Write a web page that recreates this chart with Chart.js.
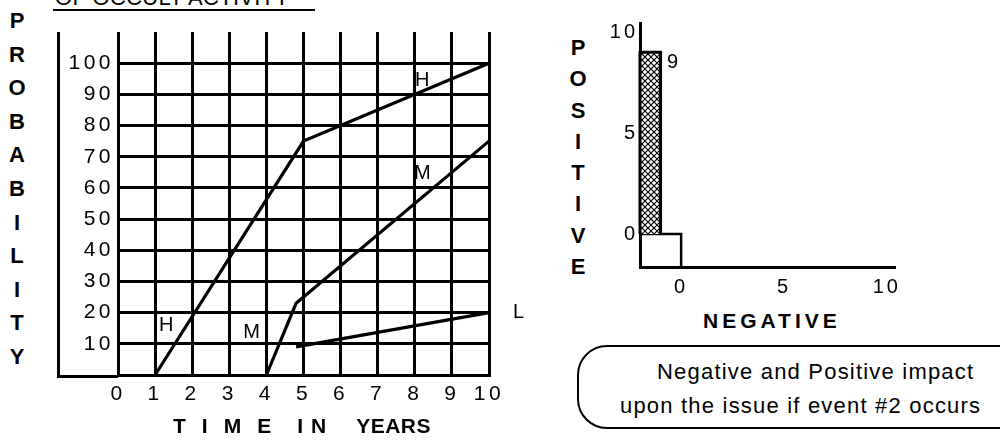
<!DOCTYPE html>
<html>
<head>
<meta charset="utf-8">
<script src="https://cdn.jsdelivr.net/npm/chart.js@4.4.0/dist/chart.umd.min.js"></script>
<style>
  html, body { margin: 0; padding: 0; background: #fff; }
  body { width: 1000px; height: 447px; position: relative; overflow: hidden;
         font-family: 'Liberation Sans', Arial, sans-serif; color: #000; }
  .abs { position: absolute; }
  .stack { text-align: center; font-weight: bold; font-size: 22px; }
  .bold { font-weight: bold; font-size: 21px; line-height: 24px; white-space: nowrap; }
  .note { font-size: 22px; line-height: 34px; letter-spacing: 1.2px; white-space: nowrap; }
</style>
</head>
<body>
<div class="abs" style="left:55px; top:-13px; font-size:22px; line-height:22px; letter-spacing:0.3px; white-space:nowrap;">OF OCCULT ACTIVITY</div>
<div class="abs" style="left:53px; top:9px; width:262px; height:2px; background:#000;"></div>

<div class="abs stack" style="left:5px; top:4px; width:24px; line-height:33.6px;">P<br>R<br>O<br>B<br>A<br>B<br>I<br>L<br>I<br>T<br>Y</div>

<div class="abs" style="left:0; top:0; width:540px; height:447px;"><canvas id="probChart"></canvas></div>

<div class="abs bold" style="left:173px; top:414px;"><span style="letter-spacing:16px">TIME</span><span style="margin-left:10px; letter-spacing:8px">IN</span><span style="margin-left:22px; letter-spacing:0.5px">YEARS</span></div>

<div class="abs stack" style="left:566px; top:32px; width:24px; line-height:31.3px;">P<br>O<br>S<br>I<br>T<br>I<br>V<br>E</div>

<div class="abs" style="left:540px; top:0; width:460px; height:300px;"><canvas id="impactChart"></canvas></div>

<div class="abs bold" style="left:703px; top:309px; letter-spacing:4px;">NEGATIVE</div>

<div class="abs" style="left:577px; top:345px; width:460px; height:80px; border:2px solid #000; border-radius:30px;"></div>
<div class="abs note" style="left:657px; top:355px;">Negative and Positive impact</div>
<div class="abs note" style="left:620px; top:389px;">upon the issue if event #2 occurs</div>

<script>
// left chart: probability vs time
const years = [0, 1, 2, 3, 4, 5, 6, 7, 8, 9, 10];
const probTicks = [10, 20, 30, 40, 50, 60, 70, 80, 90, 100];
const highX = [1, 5, 10];
const highY = [0, 75, 100];
const medX = [4, 4.8, 10];
const medY = [0, 23, 75];
const lowX = [4.8, 10];
const lowY = [9, 20];
const seriesTags = [
    { text: 'H', x: 1.3, y: 16 },
    { text: 'H', x: 8.2, y: 94.5 },
    { text: 'M', x: 3.6, y: 13.5 },
    { text: 'M', x: 8.2, y: 64.5 },
    { text: 'L', x: 10.8, y: 20 }
];

// right chart: impact of event #2
const impactTicks = [0, 5, 10];
const positiveSpan = [-2, -1];
const positiveValue = 9;
const negativeValue = 0;
const negMin = -2, negMax = 10.4;
const posMin = -1.63, posMax = 10.45;

const FONT = "'Liberation Sans', Arial, sans-serif";
const pts = (xs, ys) => xs.map((x, i) => ({ x: x, y: ys[i] }));
const lineSet = (data) => ({
    data: data, borderColor: '#000', borderWidth: 3.2, pointRadius: 0,
    tension: 0, fill: false, clip: false
});

const probPlugin = {
    id: 'probFrame',
    beforeDraw(chart) {
        chart.ctx.letterSpacing = '3.5px';
    },
    afterDraw(chart) {
        const { ctx, chartArea, scales } = chart;
        const x0 = scales.y.left;
        const yb = scales.y.getPixelForValue(0);
        ctx.save();
        ctx.strokeStyle = '#000';
        ctx.lineWidth = 3;
        ctx.beginPath();
        ctx.moveTo(x0 + 1.5, chartArea.top);
        ctx.lineTo(x0 + 1.5, yb + 1.5);
        ctx.lineTo(chartArea.left, yb + 1.5);
        ctx.stroke();
        // series letters
        ctx.letterSpacing = '0px';
        ctx.fillStyle = '#000';
        ctx.font = '20px ' + FONT;
        ctx.textAlign = 'center';
        ctx.textBaseline = 'middle';
        seriesTags.forEach(t => {
            ctx.fillText(t.text, scales.x.getPixelForValue(t.x), scales.y.getPixelForValue(t.y));
        });
        ctx.restore();
    }
};

new Chart(document.getElementById('probChart'), {
    type: 'line',
    data: {
        datasets: [
            lineSet(pts(highX, highY)),
            lineSet(pts(medX, medY)),
            lineSet(pts(lowX, lowY))
        ]
    },
    options: {
        responsive: true,
        maintainAspectRatio: false,
        animation: false,
        layout: { padding: { left: 57, right: 51, top: 32, bottom: 42 } },
        plugins: { legend: { display: false }, tooltip: { enabled: false } },
        scales: {
            x: {
                type: 'linear', min: 0, max: 10,
                afterBuildTicks: s => { s.ticks = years.map(v => ({ value: v })); },
                afterFit: s => { s.height = 30; },
                grid: { color: '#000', lineWidth: 3, drawTicks: false },
                border: { display: true, color: '#000', width: 3 },
                ticks: { color: '#000', font: { family: FONT, size: 21 }, padding: 7, maxRotation: 0, autoSkip: false }
            },
            y: {
                type: 'linear', min: 0, max: 110,
                afterBuildTicks: s => { s.ticks = probTicks.map(v => ({ value: v })); },
                afterFit: s => { s.width = 61; },
                grid: { color: '#000', lineWidth: 3, drawTicks: false },
                border: { display: false },
                ticks: { color: '#000', font: { family: FONT, size: 21 }, padding: 4, autoSkip: false }
            }
        }
    },
    plugins: [probPlugin]
});

// cross-hatch fill for the positive bar
const hatch = document.createElement('canvas');
hatch.width = 6; hatch.height = 6;
const hctx = hatch.getContext('2d');
hctx.fillStyle = '#fff';
hctx.fillRect(0, 0, 6, 6);
hctx.strokeStyle = '#000';
hctx.lineWidth = 1.2;
hctx.beginPath();
hctx.moveTo(-1, -1); hctx.lineTo(7, 7);
hctx.moveTo(7, -1); hctx.lineTo(-1, 7);
hctx.stroke();
const hatchPattern = hctx.createPattern(hatch, 'repeat');

const impactPlugin = {
    id: 'impactLabel',
    beforeDraw(chart) {
        chart.ctx.letterSpacing = '3px';
    },
    afterDraw(chart) {
        const { ctx, scales } = chart;
        ctx.save();
        ctx.letterSpacing = '0px';
        ctx.fillStyle = '#000';
        ctx.font = '20px ' + FONT;
        ctx.textAlign = 'center';
        ctx.textBaseline = 'middle';
        ctx.fillText(String(positiveValue),
            scales.x.getPixelForValue(positiveSpan[1]) + 12,
            scales.y.getPixelForValue(positiveValue) + 10);
        ctx.restore();
    }
};

new Chart(document.getElementById('impactChart'), {
    type: 'line',
    data: {
        datasets: [
            {
                data: [
                    { x: positiveSpan[0], y: 0 },
                    { x: positiveSpan[0], y: positiveValue },
                    { x: positiveSpan[1], y: positiveValue },
                    { x: positiveSpan[1], y: 0 }
                ],
                borderColor: '#000', borderWidth: 3, pointRadius: 0, tension: 0,
                fill: 'origin', backgroundColor: hatchPattern, clip: false
            },
            {
                data: [
                    { x: negMin, y: 0 },
                    { x: negativeValue, y: 0 },
                    { x: negativeValue, y: posMin }
                ],
                borderColor: '#000', borderWidth: 2.5, pointRadius: 0, tension: 0,
                fill: false, clip: false
            }
        ]
    },
    options: {
        responsive: true,
        maintainAspectRatio: false,
        animation: false,
        layout: { padding: { left: 60, right: 105, top: 23, bottom: 3 } },
        plugins: { legend: { display: false }, tooltip: { enabled: false } },
        scales: {
            x: {
                type: 'linear', min: negMin, max: negMax,
                afterBuildTicks: s => { s.ticks = impactTicks.map(v => ({ value: v })); },
                afterFit: s => { s.height = 30; },
                grid: { display: false, drawTicks: false },
                border: { display: true, color: '#000', width: 3 },
                ticks: { color: '#000', font: { family: FONT, size: 20 }, padding: 8, maxRotation: 0, autoSkip: false }
            },
            y: {
                type: 'linear', min: posMin, max: posMax,
                afterBuildTicks: s => { s.ticks = impactTicks.map(v => ({ value: v })); },
                afterFit: s => { s.width = 40; },
                grid: { display: false, drawTicks: false },
                border: { display: true, color: '#000', width: 3 },
                ticks: { color: '#000', font: { family: FONT, size: 20 }, padding: 2, autoSkip: false }
            }
        }
    },
    plugins: [impactPlugin]
});
</script>
</body>
</html>
